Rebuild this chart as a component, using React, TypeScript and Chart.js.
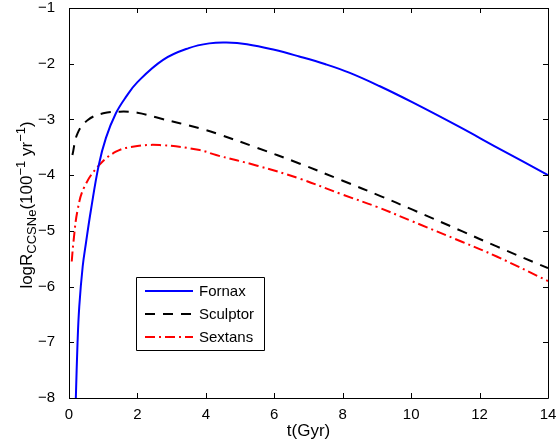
import React, { useEffect, useRef } from "react";
import { Chart, registerables } from "chart.js";

Chart.register(...registerables);

// ---- data ----
const fornaxT = [0.2, 0.25, 0.3, 0.4, 0.5, 0.64, 0.87, 1.08, 1.37, 1.66, 2.0, 2.75, 3.5, 4.1, 4.6, 5.2, 6.0, 6.73, 7.5, 8.19, 9.07, 10.03, 11.4, 12.5, 14];
const fornaxLogR = [-8.0, -7.0, -6.36, -5.64, -5.2, -4.63, -3.82, -3.33, -2.89, -2.6, -2.33, -1.93, -1.72, -1.635, -1.62, -1.65, -1.75, -1.87, -2.01, -2.16, -2.4, -2.69, -3.13, -3.5, -4.0];

const sculptorT = [0.1, 0.25, 0.55, 1.0, 1.49, 2.0, 2.65, 3.82, 4.3, 5.5, 6.73, 8.0, 9.12, 10.04, 11.5, 12.5, 14];
const sculptorLogR = [-3.64, -3.25, -3.01, -2.89, -2.86, -2.88, -2.98, -3.16, -3.25, -3.51, -3.79, -4.1, -4.38, -4.62, -5.01, -5.28, -5.67];

const sextansT = [0.08, 0.13, 0.25, 0.45, 0.88, 1.37, 1.86, 2.65, 3.82, 4.3, 5.5, 6.73, 8.0, 9.0, 10.0, 11.5, 12.5, 14];
const sextansLogR = [-5.55, -5.2, -4.63, -4.21, -3.82, -3.58, -3.49, -3.46, -3.55, -3.64, -3.83, -4.06, -4.35, -4.57, -4.82, -5.2, -5.46, -5.9];

const seriesNames = ["Fornax", "Sculptor", "Sextans"];
const xTicks = [0, 2, 4, 6, 8, 10, 12, 14];
const yTicks = [-8, -7, -6, -5, -4, -3, -2, -1];
const xTitle = "t(Gyr)";

const FONT = '"Liberation Sans", Arial, Helvetica, sans-serif';
const minus = (v: number) => String(v).replace("-", "\u2212");

const framePlugin = {
  id: "matlabFrame",
  afterDatasetsDraw(chart: any) {
    const { ctx, chartArea } = chart;
    const { left, right, top, bottom } = chartArea;
    const xs = chart.scales.x;
    const ys = chart.scales.y;
    ctx.save();
    ctx.strokeStyle = "#000";
    ctx.lineWidth = 1;
    ctx.beginPath();
    const tl = 5;
    xTicks.forEach((v) => {
      const px = Math.round(xs.getPixelForValue(v)) + 0.5;
      ctx.moveTo(px, bottom);
      ctx.lineTo(px, bottom - tl);
      ctx.moveTo(px, top);
      ctx.lineTo(px, top + tl);
    });
    yTicks.forEach((v) => {
      const py = Math.round(ys.getPixelForValue(v)) + 0.5;
      ctx.moveTo(left, py);
      ctx.lineTo(left + tl, py);
      ctx.moveTo(right, py);
      ctx.lineTo(right - tl, py);
    });
    ctx.stroke();
    ctx.beginPath();
    ctx.rect(Math.round(left) + 0.5, Math.round(top) + 0.5, Math.round(right - left), Math.round(bottom - top));
    ctx.stroke();

    // legend box
    const lx = left + 67;
    const ly = top + 269;
    const lw = 128;
    const lh = 73;
    ctx.fillStyle = "#fff";
    ctx.fillRect(lx, ly, lw, lh);
    ctx.beginPath();
    ctx.rect(Math.round(lx) + 0.5, Math.round(ly) + 0.5, lw, lh);
    ctx.stroke();
    ctx.font = `15px ${FONT}`;
    ctx.textBaseline = "middle";
    ctx.textAlign = "left";
    chart.data.datasets.forEach((ds: any, i: number) => {
      const cy = ly + 14 + i * 23;
      ctx.save();
      ctx.strokeStyle = ds.borderColor;
      ctx.lineWidth = ds.borderWidth;
      ctx.setLineDash(ds.borderDash || []);
      ctx.beginPath();
      ctx.moveTo(lx + 9, cy);
      ctx.lineTo(lx + 57, cy);
      ctx.stroke();
      ctx.restore();
      ctx.fillStyle = "#000";
      ctx.fillText(ds.label, lx + 63, cy + 1);
    });

    // y axis title with subscript / superscripts
    const mainF = `17px ${FONT}`;
    const smallF = `13px ${FONT}`;
    const parts: [string, string, number][] = [
      ["logR", mainF, 0],
      ["CCSNe", smallF, 4],
      ["(100", mainF, 0],
      ["\u22121", smallF, -7],
      [" yr", mainF, 0],
      ["\u22121", smallF, -7],
      [")", mainF, 0],
    ];
    let total = 0;
    parts.forEach(([t, f]) => {
      ctx.font = f;
      total += ctx.measureText(t).width;
    });
    ctx.translate(32, (top + bottom) / 2 + 2);
    ctx.rotate(-Math.PI / 2);
    ctx.textBaseline = "alphabetic";
    ctx.fillStyle = "#000";
    let u = -total / 2;
    parts.forEach(([t, f, dv]) => {
      ctx.font = f;
      ctx.fillText(t, u, dv);
      u += ctx.measureText(t).width;
    });
    ctx.restore();
  },
};

export default function App() {
  const ref = useRef<HTMLCanvasElement | null>(null);
  useEffect(() => {
    if (!ref.current) return;
    const mk = (ts: number[], vs: number[]) => ts.map((t, i) => ({ x: t, y: vs[i] }));
    const common = { borderWidth: 2, pointRadius: 0, tension: 0.4 };
    const chart = new Chart(ref.current, {
      type: "line",
      data: {
        datasets: [
          { label: seriesNames[0], data: mk(fornaxT, fornaxLogR), borderColor: "#0000ff", ...common },
          { label: seriesNames[1], data: mk(sculptorT, sculptorLogR), borderColor: "#000000", borderDash: [10, 8], ...common },
          { label: seriesNames[2], data: mk(sextansT, sextansLogR), borderColor: "#ff0000", borderDash: [10, 4, 2, 4], ...common },
        ],
      },
      options: {
        animation: false,
        responsive: true,
        maintainAspectRatio: false,
        layout: { padding: { top: 8, right: 8, left: 0, bottom: 0 } },
        plugins: { legend: { display: false }, tooltip: { enabled: false } },
        scales: {
          x: {
            type: "linear",
            min: 0,
            max: 14,
            afterBuildTicks: (s: any) => {
              s.ticks = xTicks.map((v) => ({ value: v }));
            },
            afterFit: (s: any) => {
              s.height = 48;
              s.paddingLeft = 0;
              s.paddingRight = 0;
            },
            grid: { display: false },
            border: { display: false },
            ticks: {
              color: "#000",
              font: { family: FONT, size: 15 },
              padding: 0,
              maxRotation: 0,
              callback: (v: any) => minus(Number(v)),
            },
            title: {
              display: true,
              text: xTitle,
              color: "#000",
              font: { family: FONT, size: 17 },
              padding: { top: 0, bottom: 4 },
            },
          },
          y: {
            type: "linear",
            min: -8,
            max: -1,
            afterBuildTicks: (s: any) => {
              s.ticks = yTicks.map((v) => ({ value: v }));
            },
            afterFit: (s: any) => {
              s.width = 69;
              s.paddingTop = 0;
              s.paddingBottom = 0;
            },
            grid: { display: false },
            border: { display: false },
            ticks: {
              color: "#000",
              font: { family: FONT, size: 15 },
              padding: 6,
              callback: (v: any) => minus(Number(v)),
            },
          },
        },
      },
      plugins: [framePlugin],
    });
    return () => chart.destroy();
  }, []);
  return (
    <div style={{ position: "absolute", left: 0, top: 0, width: 556, height: 446, background: "#fff" }}>
      <canvas ref={ref} />
    </div>
  );
}
